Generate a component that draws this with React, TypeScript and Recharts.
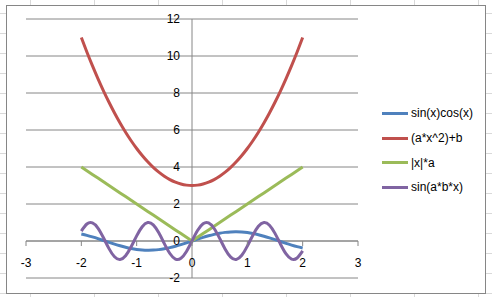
import { LineChart, Line, XAxis, YAxis, CartesianGrid, ReferenceLine, ReferenceDot, Legend } from 'recharts';

const xValues = [
  -2, -1.9, -1.8, -1.7, -1.6, -1.5, -1.4, -1.3, -1.2, -1.1, -1, -0.9, -0.8, -0.7, -0.6, -0.5, -0.4, -0.3, -0.2, -0.1,
  0, 0.1, 0.2, 0.3, 0.4, 0.5, 0.6, 0.7, 0.8, 0.9, 1, 1.1, 1.2, 1.3, 1.4, 1.5, 1.6, 1.7, 1.8, 1.9, 2,
];

const sinCos = [
  0.378, 0.306, 0.221, 0.128, 0.029, -0.071, -0.167, -0.258, -0.338, -0.404, -0.455, -0.487, -0.5, -0.493, -0.466,
  -0.421, -0.359, -0.282, -0.195, -0.099, 0, 0.099, 0.195, 0.282, 0.359, 0.421, 0.466, 0.493, 0.5, 0.487, 0.455,
  0.404, 0.338, 0.258, 0.167, 0.071, -0.029, -0.128, -0.221, -0.306, -0.378,
];

const parabola = [
  11, 10.22, 9.48, 8.78, 8.12, 7.5, 6.92, 6.38, 5.88, 5.42, 5, 4.62, 4.28, 3.98, 3.72, 3.5, 3.32, 3.18, 3.08, 3.02,
  3, 3.02, 3.08, 3.18, 3.32, 3.5, 3.72, 3.98, 4.28, 4.62, 5, 5.42, 5.88, 6.38, 6.92, 7.5, 8.12, 8.78, 9.48, 10.22, 11,
];

const absTimesA = [
  4, 3.8, 3.6, 3.4, 3.2, 3, 2.8, 2.6, 2.4, 2.2, 2, 1.8, 1.6, 1.4, 1.2, 1, 0.8, 0.6, 0.4, 0.2,
  0, 0.2, 0.4, 0.6, 0.8, 1, 1.2, 1.4, 1.6, 1.8, 2, 2.2, 2.4, 2.6, 2.8, 3, 3.2, 3.4, 3.6, 3.8, 4,
];

const sinABX = [
  0.537, 0.919, 0.981, 0.7, 0.174, -0.412, -0.855, -0.999, -0.794, -0.312, 0.279, 0.773, 0.996, 0.872, 0.443,
  -0.141, -0.676, -0.974, -0.932, -0.565, 0, 0.565, 0.932, 0.974, 0.676, 0.141, -0.443, -0.872, -0.996, -0.773,
  -0.279, 0.312, 0.794, 0.999, 0.855, 0.412, -0.174, -0.7, -0.981, -0.919, -0.537,
];

const seriesNames = ['sin(x)cos(x)', '(a*x^2)+b', '|x|*a', 'sin(a*b*x)'];
const xTicks = [-3, -2, -1, 0, 1, 2, 3];
const yTicks = [-2, 0, 2, 4, 6, 8, 10, 12];

const data = xValues.map((x, i) => ({
  x,
  s1: sinCos[i],
  s2: parabola[i],
  s3: absTimesA[i],
  s4: sinABX[i],
}));

const AXIS = '#868686';
const FONT = '"Liberation Sans", Arial, sans-serif';

const XTickMark = (props: any) => {
  const { cx, cy, label } = props;
  return (
    <g>
      <line x1={cx} y1={cy} x2={cx} y2={cy + 5} stroke={AXIS} />
      <text x={cx} y={cy + 26} textAnchor="middle" fontSize={12} fontFamily={FONT} fill="#000">
        {label}
      </text>
    </g>
  );
};

const YTickLabel = (props: any) => {
  const { cx, cy, label } = props;
  return (
    <text x={cx - 12} y={cy + 4} textAnchor="end" fontSize={12} fontFamily={FONT} fill="#000">
      {label}
    </text>
  );
};

const renderLegend = (props: any) => {
  // keep the series order, not the alphabetical one
  const items = [...(props.payload || [])].sort(
    (a: any, b: any) => seriesNames.indexOf(a.value) - seriesNames.indexOf(b.value),
  );
  return (
    <div style={{ fontFamily: FONT, fontSize: 12, color: '#000' }}>
      {items.map((entry: any) => (
        <div key={entry.value} style={{ display: 'flex', alignItems: 'center', height: 24.7 }}>
          <span style={{ display: 'inline-block', width: 26, height: 3, background: entry.color, marginRight: 3 }} />
          <span>{entry.value}</span>
        </div>
      ))}
    </div>
  );
};

export default function App() {
  return (
    <div
      style={{
        position: 'absolute',
        left: 0,
        top: 0,
        width: 492,
        height: 297,
        overflow: 'hidden',
        backgroundColor: '#fff',
        backgroundImage:
          'linear-gradient(to right, #d9d9d9 1px, transparent 1px), linear-gradient(to bottom, #d9d9d9 1px, transparent 1px)',
        backgroundSize: '64px 20px',
        backgroundPosition: '30px 13px',
      }}
    >
      <div
        style={{
          position: 'absolute',
          left: 6,
          top: 5,
          width: 478,
          height: 287,
          border: `1px solid ${AXIS}`,
          background: '#fff',
        }}
      />
      <div style={{ position: 'absolute', left: 0, top: 0 }}>
        <LineChart width={492} height={297} data={data} margin={{ top: 19, right: 134, bottom: 19, left: 26 }}>
          <CartesianGrid vertical={false} horizontalValues={yTicks} stroke={AXIS} strokeWidth={1} />
          <XAxis type="number" dataKey="x" domain={[-3, 3]} ticks={xTicks} hide />
          <YAxis type="number" domain={[-2, 12]} ticks={yTicks} hide />
          <ReferenceLine x={0} stroke={AXIS} ifOverflow="visible" />
          <ReferenceLine y={0} stroke={AXIS} ifOverflow="visible" />
          {xTicks.map((t) => (
            <ReferenceDot
              key={`x${t}`}
              x={t}
              y={0}
              ifOverflow="visible"
              shape={(p: any) => <XTickMark {...p} label={t} />}
            />
          ))}
          {yTicks.map((t) => (
            <ReferenceDot
              key={`y${t}`}
              x={0}
              y={t}
              ifOverflow="visible"
              shape={(p: any) => <YTickLabel {...p} label={t} />}
            />
          ))}
          <Legend
            layout="vertical"
            align="center"
            verticalAlign="middle"
            wrapperStyle={{ left: 382, top: 101, width: 110 }}
            content={renderLegend}
          />
          <Line dataKey="s1" name={seriesNames[0]} type="natural" stroke="#4F81BD" strokeWidth={3} dot={false} isAnimationActive={false} />
          <Line dataKey="s2" name={seriesNames[1]} type="natural" stroke="#C0504D" strokeWidth={3} dot={false} isAnimationActive={false} />
          <Line dataKey="s3" name={seriesNames[2]} type="linear" stroke="#9BBB59" strokeWidth={3} dot={false} isAnimationActive={false} />
          <Line dataKey="s4" name={seriesNames[3]} type="natural" stroke="#8064A2" strokeWidth={3} dot={false} isAnimationActive={false} />
        </LineChart>
      </div>
    </div>
  );
}
